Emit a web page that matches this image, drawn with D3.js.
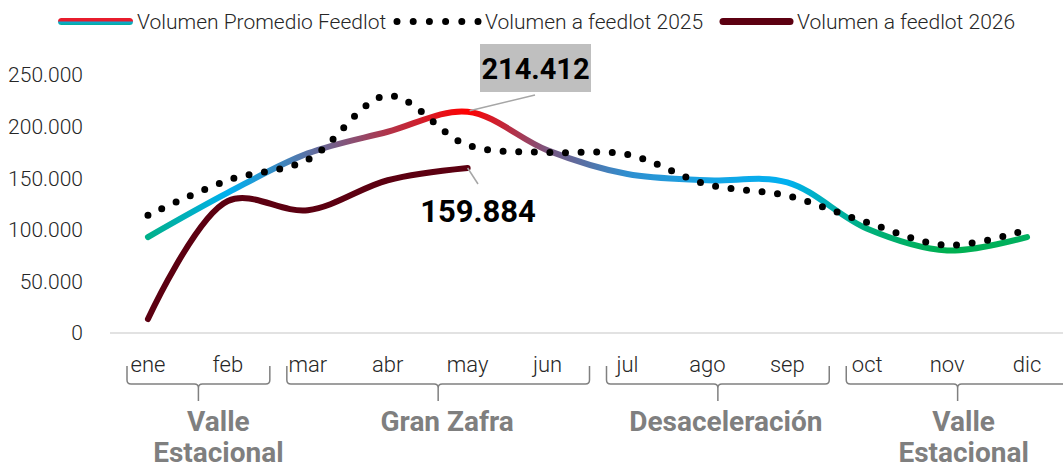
<!DOCTYPE html>
<html>
<head>
<meta charset="utf-8">
<script src="https://cdn.jsdelivr.net/npm/d3@7"></script>
<style>
	body { margin: 0; background: #fff; }
	svg { display: block; font-family: Roboto, "Liberation Sans", sans-serif; }
</style>
</head>
<body>
<div id="chart"></div>
<script>
const months = ["ene", "feb", "mar", "abr", "may", "jun", "jul", "ago", "sep", "oct", "nov", "dic"];
const promedio = [93000, 136000, 174000, 195000, 214412, 177000, 154000, 148000, 146000, 101000, 80000, 93000];
const vol2025 = [114000, 148000, 168000, 230000, 182000, 175000, 173000, 144000, 133000, 107000, 85000, 100000];
const vol2026 = [13500, 128000, 119000, 148000, 159884];
const yTicks = [0, 50000, 100000, 150000, 200000, 250000];
const groups = [
	{ name: ["Valle", "Estacional"], from: "ene", to: "feb" },
	{ name: ["Gran Zafra"], from: "mar", to: "jun" },
	{ name: ["Desaceleración"], from: "jul", to: "sep" },
	{ name: ["Valle", "Estacional"], from: "oct", to: "dic" },
];
const seriesNames = ["Volumen Promedio Feedlot", "Volumen a feedlot 2025", "Volumen a feedlot 2026"];

// colour of the average line at each month (gradient stops)
const gradColors = ["#00b08a", "#00b0f0", "#5b72a6", "#b0344a", "#ff0000", "#7a5680", "#2f8fd0", "#18a4e4", "#00b0f0", "#00b07c", "#00b050", "#00b060"];
const labelShift = [20, 9, 8, 6];

const width = 1063;
const height = 472;
const fmt = (v) => d3.format(",")(v).replace(/,/g, ".");

const x = d3.scaleBand().domain(months).range([108, 1067]);
const cx = (m) => x(m) + x.bandwidth() / 2;
const y = d3.scaleLinear().domain([0, 250000]).range([333, 75]);

const svg = d3
	.select("#chart")
	.append("svg")
	.attr("width", width)
	.attr("height", height);

const defs = svg.append("defs");
const grad = defs
	.append("linearGradient")
	.attr("id", "avgGrad")
	.attr("gradientUnits", "userSpaceOnUse")
	.attr("x1", cx(months[0]))
	.attr("x2", cx(months[months.length - 1]))
	.attr("y1", 0)
	.attr("y2", 0);
const span = cx(months[months.length - 1]) - cx(months[0]);
months.forEach((m, i) => {
	grad
		.append("stop")
		.attr("offset", (cx(m) - cx(months[0])) / span)
		.attr("stop-color", gradColors[i]);
});

const legGrad = defs
	.append("linearGradient")
	.attr("id", "legGrad")
	.attr("x1", 0)
	.attr("x2", 0)
	.attr("y1", 0)
	.attr("y2", 1);
[["0", "#e81c2c"], ["0.45", "#e81c2c"], ["0.55", "#10a8d8"], ["1", "#00b09a"]].forEach(([o, c]) => {
	legGrad.append("stop").attr("offset", o).attr("stop-color", c);
});

// y axis labels
svg
	.append("g")
	.selectAll("text")
	.data(yTicks)
	.join("text")
	.attr("x", 83)
	.attr("y", (d) => y(d))
	.attr("dy", "0.35em")
	.attr("text-anchor", "end")
	.attr("font-size", 21)
	.attr("font-weight", 300)
	.attr("fill", "#262626")
	.text((d) => fmt(d));

// baseline
svg
	.append("line")
	.attr("x1", 110)
	.attr("x2", width)
	.attr("y1", y(0))
	.attr("y2", y(0))
	.attr("stroke", "#d9d9d9")
	.attr("stroke-width", 1.5);

// month labels
svg
	.append("g")
	.selectAll("text")
	.data(months)
	.join("text")
	.attr("x", (d) => cx(d))
	.attr("y", 372)
	.attr("text-anchor", "middle")
	.attr("font-size", 22)
	.attr("font-weight", 300)
	.attr("fill", "#262626")
	.text((d) => d);

// braces + group names
const braceTop = 366;
const braceMid = 384;
const braceTip = 401;
const r = 4;
const braces = svg.append("g");
groups.forEach((g, i) => {
	const x0 = x(g.from) + 19;
	const x1 = x(g.to) + x.bandwidth() + 2;
	const c = (x0 + x1) / 2;
	const p = d3.path();
	p.moveTo(x0, braceTop);
	p.lineTo(x0, braceMid - r);
	p.quadraticCurveTo(x0, braceMid, x0 + r, braceMid);
	p.lineTo(c - r, braceMid);
	p.quadraticCurveTo(c, braceMid, c, braceMid + r);
	p.lineTo(c, braceTip);
	p.moveTo(c, braceMid + r);
	p.quadraticCurveTo(c, braceMid, c + r, braceMid);
	p.lineTo(x1 - r, braceMid);
	p.quadraticCurveTo(x1, braceMid, x1, braceMid - r);
	p.lineTo(x1, braceTop);
	braces
		.append("path")
		.attr("d", p.toString())
		.attr("fill", "none")
		.attr("stroke", "#808080")
		.attr("stroke-width", 1.5);

	braces
		.append("text")
		.attr("text-anchor", "middle")
		.attr("font-size", 28)
		.attr("font-weight", 700)
		.attr("fill", "#7f7f7f")
		.selectAll("tspan")
		.data(g.name)
		.join("tspan")
		.attr("x", c + labelShift[i])
		.attr("y", (d, j) => 431 + j * 31)
		.text((d) => d);
});

const line = d3
	.line()
	.x((d, i) => cx(months[i]))
	.y((d) => y(d))
	.curve(d3.curveCatmullRom.alpha(0.5));

svg
	.append("path")
	.attr("d", line(promedio))
	.attr("fill", "none")
	.attr("stroke", "url(#avgGrad)")
	.attr("stroke-width", 6)
	.attr("stroke-linecap", "round");

svg
	.append("path")
	.attr("d", line(vol2025))
	.attr("fill", "none")
	.attr("stroke", "#000")
	.attr("stroke-width", 7)
	.attr("stroke-linecap", "round")
	.attr("stroke-dasharray", "0 15.6");

svg
	.append("path")
	.attr("d", line(vol2026))
	.attr("fill", "none")
	.attr("stroke", "#5c0011")
	.attr("stroke-width", 6)
	.attr("stroke-linecap", "round");

// annotations
const peakIdx = promedio.indexOf(d3.max(promedio));
const lastIdx = vol2026.length - 1;
const annot = svg.append("g");

annot
	.append("line")
	.attr("x1", cx(months[peakIdx]) + 2)
	.attr("y1", y(promedio[peakIdx]) - 1)
	.attr("x2", 535)
	.attr("y2", 95)
	.attr("stroke", "#a6a6a6")
	.attr("stroke-width", 1.5);
annot
	.append("rect")
	.attr("x", 480)
	.attr("y", 44)
	.attr("width", 111)
	.attr("height", 48)
	.attr("fill", "#bfbfbf");
annot
	.append("text")
	.attr("x", 535.5)
	.attr("y", 79)
	.attr("text-anchor", "middle")
	.attr("font-size", 29)
	.attr("font-weight", 700)
	.attr("fill", "#000")
	.text(fmt(promedio[peakIdx]));

annot
	.append("line")
	.attr("x1", cx(months[lastIdx]))
	.attr("y1", y(vol2026[lastIdx]))
	.attr("x2", 478)
	.attr("y2", 184)
	.attr("stroke", "#a6a6a6")
	.attr("stroke-width", 1.5);
annot
	.append("text")
	.attr("x", 478)
	.attr("y", 222)
	.attr("text-anchor", "middle")
	.attr("font-size", 31)
	.attr("font-weight", 700)
	.attr("fill", "#000")
	.text(fmt(vol2026[lastIdx]));

// legend
const legend = svg.append("g").attr("font-size", 21).attr("font-weight", 300).attr("fill", "#262626");
legend
	.append("rect")
	.attr("x", 58)
	.attr("y", 18)
	.attr("width", 75)
	.attr("height", 7)
	.attr("rx", 3.5)
	.attr("fill", "url(#legGrad)");
legend.append("text").attr("x", 137).attr("y", 29).text(seriesNames[0]);
legend
	.append("line")
	.attr("x1", 397)
	.attr("x2", 479)
	.attr("y1", 21.5)
	.attr("y2", 21.5)
	.attr("stroke", "#000")
	.attr("stroke-width", 7)
	.attr("stroke-linecap", "round")
	.attr("stroke-dasharray", "0 16.2");
legend.append("text").attr("x", 485).attr("y", 29).text(seriesNames[1]);
legend
	.append("line")
	.attr("x1", 723)
	.attr("x2", 790)
	.attr("y1", 21.5)
	.attr("y2", 21.5)
	.attr("stroke", "#5c0011")
	.attr("stroke-width", 7)
	.attr("stroke-linecap", "round");
legend.append("text").attr("x", 797).attr("y", 29).text(seriesNames[2]);
</script>
</body>
</html>
